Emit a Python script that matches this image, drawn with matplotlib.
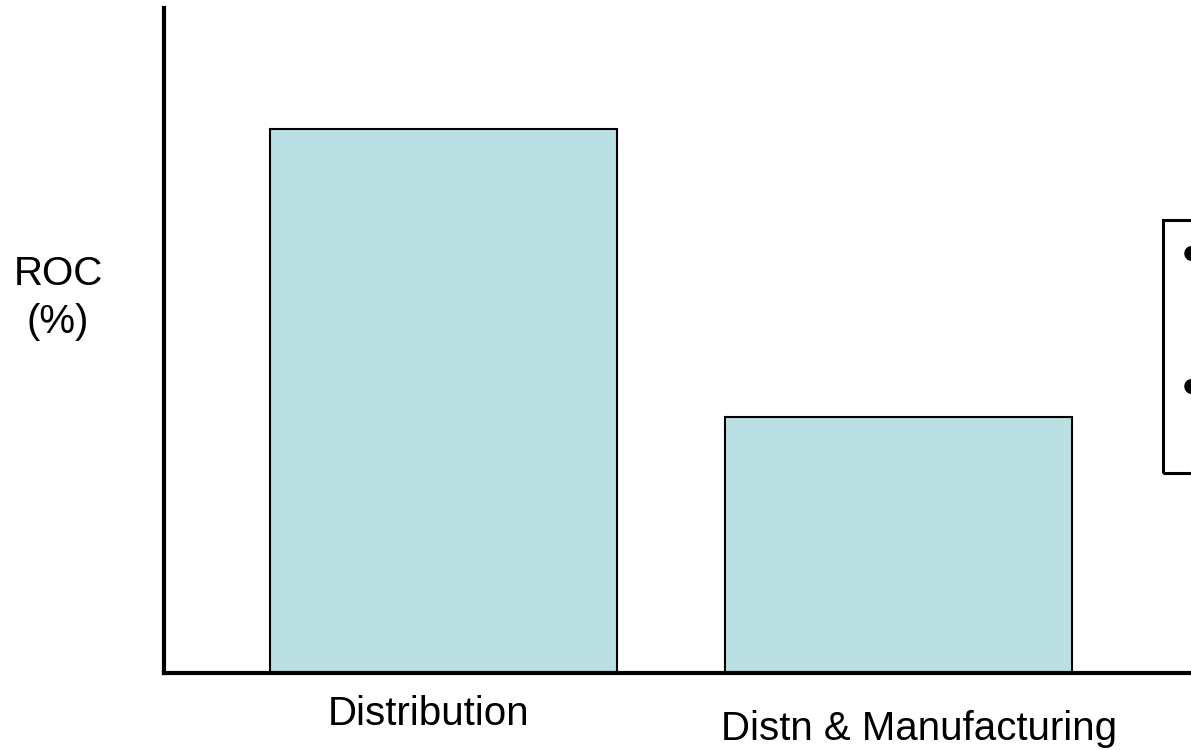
import matplotlib
matplotlib.use("Agg")
import matplotlib.pyplot as plt
from matplotlib.patches import Rectangle

plt.rcParams['font.family'] = ['Liberation Sans', 'DejaVu Sans']

categories = ['Distribution', 'Distn & Manufacturing']
roc_values = [81.8, 38.5]

# label placement (x shift in bar units, baseline in axes fraction)
label_shift = [-0.032, 0.045]
label_base = [-0.078, -0.101]

fig = plt.figure(figsize=(11.91, 7.5), dpi=100)
ax = fig.add_axes([0.1377, 0.1027, 0.8623, 0.8867])

x = list(range(len(categories)))
ax.bar(x, roc_values, width=0.763, color='#BBE0E3', edgecolor='black', linewidth=1.5)

ax.set_xlim(-0.614, 1.643)
ax.set_ylim(0, 100)
ax.set_xticks([])
ax.set_yticks([])
for side in ['top', 'right']:
    ax.spines[side].set_visible(False)
for side in ['left', 'bottom']:
    ax.spines[side].set_linewidth(3)

# category names under the bars
for xi, name, dx, yb in zip(x, categories, label_shift, label_base):
    ax.text(xi + dx, yb, name, transform=ax.get_xaxis_transform(),
            ha='center', va='baseline', fontsize=29)

fig.text(0.0487, 0.620, 'ROC', ha='center', va='baseline', fontsize=29)
fig.text(0.0487, 0.556, '(%)', ha='center', va='baseline', fontsize=29)

# side note box, running off the right edge
box = Rectangle((1163 / 1191, 1 - 473 / 750), 0.1, (473 - 220) / 750,
                transform=fig.transFigure, fill=False, edgecolor='black',
                linewidth=2.2, clip_on=False)
fig.add_artist(box)
for yb in [258, 391]:
    fig.text(1182 / 1191, 1 - yb / 750, '\u2022', ha='left', va='center',
             fontsize=40)

fig.savefig('out.png', dpi=100)
